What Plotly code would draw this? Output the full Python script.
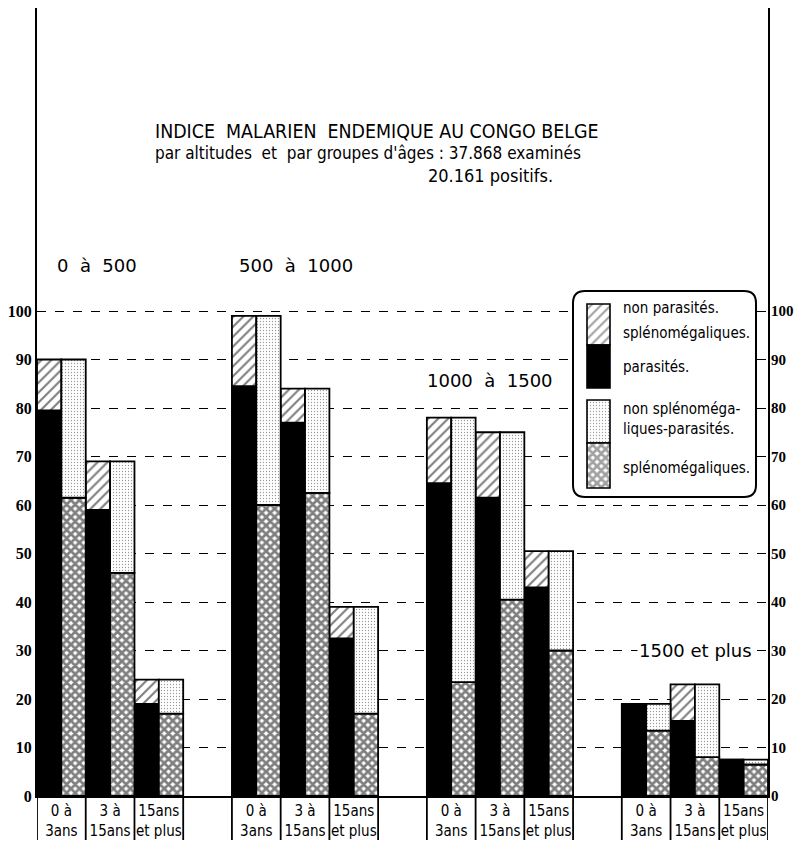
import plotly.graph_objects as go

# ---------------- data ----------------
groups = ["0  à  500", "500  à  1000", "1000  à  1500", "1500 et plus"]
ages = ["0 à<br>3ans", "3 à<br>15ans", "15ans<br>et plus"]

# left bar: parasités (black) + non parasités splénomégaliques (hatched)
parasites = [[79.5, 59, 19], [84.5, 77, 32.5], [64.5, 61.5, 43], [19, 15.5, 7.5]]
non_parasites_spleno = [[10.5, 10, 5], [14.5, 7, 6.5], [13.5, 13.5, 7.5], [0, 7.5, 0]]
# right bar: splénomégaliques (cross-hatched) + non splénomégaliques-parasités (dotted)
splenomegaliques = [[61.5, 46, 17], [60, 62.5, 17], [23.5, 40.5, 30], [13.5, 8, 6.5]]
non_spleno_parasites = [[28.5, 23, 7], [39, 21.5, 22], [54.5, 34.5, 20.5], [5.5, 15, 1]]

y_ticks = list(range(0, 101, 10))

# ---------------- geometry (page pixels; page body has an 8px margin) ----------------
OFF = 8
W, H = 802 - OFF, 848 - 2 * OFF
L, R, T, B = 37, 768, 8, 796          # plot area in page pixels
PXU = 4.85                            # pixels per y unit
YMAX = (B - T) / PXU
XMAX = 30

def xp(px):
    return (px - L) / (R - L)
def yp(py):
    return (B - py) / (B - T)
def xu(px):
    return (px - L) / (R - L) * XMAX
def yu(py):
    return (B - py) / PXU

left_x, right_x = [], []
for g in range(len(groups)):
    for k in range(len(ages)):
        left_x.append(8 * g + 2 * k + 0.5)
        right_x.append(8 * g + 2 * k + 1.5)

def flat(a):
    return [v for row in a for v in row]

par = flat(parasites)
npar = flat(non_parasites_spleno)
spl = flat(splenomegaliques)
nspl = flat(non_spleno_parasites)

OUT = dict(color="black", width=1.8)
HATCH = dict(shape="/", size=7, solidity=0.3, fgcolor="black", fillmode="overlay")
DOTS = dict(shape=".", size=3, solidity=0.15, fgcolor="#333", fillmode="overlay")
CROSS = dict(shape="x", size=6, solidity=0.7, fgcolor="black", fillmode="overlay")

fig = go.Figure()
fig.add_trace(go.Bar(x=left_x, y=par, base=[0] * len(par), width=1,
                     marker=dict(color="black", line=OUT), name="parasités"))
fig.add_trace(go.Bar(x=left_x, y=npar, base=par, width=1,
                     marker=dict(color="white", line=OUT, pattern=HATCH),
                     name="non parasités splénomégaliques"))
fig.add_trace(go.Bar(x=right_x, y=spl, base=[0] * len(spl), width=1,
                     marker=dict(color="white", line=OUT, pattern=CROSS),
                     name="splénomégaliques"))
fig.add_trace(go.Bar(x=right_x, y=nspl, base=spl, width=1,
                     marker=dict(color="white", line=OUT, pattern=DOTS),
                     name="non splénomégaliques-parasités"))

# legend swatches (on right axis y2, same scale)
sw_x = (xu(587) + xu(610)) / 2
sw_w = xu(610) - xu(587)
sw_top = [yu(304), yu(345), yu(400), yu(443)]
sw_bot = [yu(345), yu(388), yu(443), yu(488)]
fig.add_trace(go.Bar(
    x=[sw_x] * 4, base=sw_bot, y=[t - b for t, b in zip(sw_top, sw_bot)],
    width=sw_w, yaxis="y2",
    marker=dict(color=["white", "black", "white", "white"],
                line=dict(color="black", width=1.6),
                pattern=dict(shape=["/", "", ".", "x"], size=[7, 8, 3, 6],
                             solidity=[0.3, 0.2, 0.15, 0.7],
                             fgcolor="black", fillmode="overlay")),
    hoverinfo="skip"))

shapes = []
# legend rounded box
x0, x1, y0, y1 = xu(573), xu(756), yu(291), yu(497)
rx, ry = xu(573 + 12) - xu(573), yu(291) - yu(291 + 12)
path = (f"M {x0+rx},{y0} L {x1-rx},{y0} Q {x1},{y0} {x1},{y0-ry} "
        f"L {x1},{y1+ry} Q {x1},{y1} {x1-rx},{y1} L {x0+rx},{y1} "
        f"Q {x0},{y1} {x0},{y1+ry} L {x0},{y0-ry} Q {x0},{y0} {x0+rx},{y0} Z")
shapes.append(dict(type="path", path=path, xref="x", yref="y",
                   line=dict(color="black", width=2), fillcolor="white",
                   layer="between"))
# cell lines under the axis
for i in range(0, XMAX + 1, 2):
    shapes.append(dict(type="line", xref="x", yref="paper", x0=i, x1=i,
                       y0=0, y1=-(848 - B) / (B - T), line=dict(color="black", width=1.8)))

COND = "DejaVu Sans Condensed, Liberation Sans Narrow, sans-serif"
GEO = "DejaVu Sans, sans-serif"
SERIF = "Liberation Serif, serif"
ann = []
def add_text(text, px, py, size, family=COND, xanchor="left", bg=None, weight="normal"):
    d = dict(text=text, x=xp(px), y=yp(py), xref="paper", yref="paper",
             xanchor=xanchor, yanchor="middle", showarrow=False, align="left",
             font=dict(family=family, size=size, color="black", weight=weight))
    if bg:
        d["bgcolor"] = bg
    ann.append(d)

add_text("INDICE  MALARIEN  ENDEMIQUE AU CONGO BELGE", 153, 131, 19.4)
add_text("par altitudes  et  par groupes d'âges : 37.868 examinés", 153, 153, 17)
add_text("20.161 positifs.", 426, 175, 18)

add_text(groups[0], 55, 265, 18, family=GEO)
add_text(groups[1], 237, 265, 18, family=GEO)
add_text(groups[2], 425, 380, 18, family=GEO)
add_text(groups[3], 695, 650, 18, family=GEO, xanchor="center", bg="white")

add_text("non parasités.", 621, 308, 15)
add_text("splénomégaliques.", 621, 333, 15)
add_text("parasités.", 621, 367, 15)
add_text("non splénoméga-<br>liques-parasités.", 621, 419, 15)
add_text("splénomégaliques.", 621, 468, 15)

# right-hand scale labels as annotations anchored on the y scale
for v in y_ticks:
    ann.append(dict(text=str(v), x=1, xref="paper", xshift=1, y=v, yref="y",
                    xanchor="left", yanchor="middle", showarrow=False,
                    font=dict(family=SERIF, size=15, color="black", weight="bold")))

tick_x = [8 * g + 2 * k + 1 for g in range(len(groups)) for k in range(len(ages))]
tick_t = ages * len(groups)

fig.update_layout(
    width=W, height=H, barmode="overlay",
    margin=dict(l=L - OFF, r=W - (R - OFF), t=T - OFF, b=H - (B - OFF), autoexpand=False),
    paper_bgcolor="white", plot_bgcolor="white", showlegend=False,
    shapes=shapes, annotations=ann,
    xaxis=dict(range=[0, XMAX], tickvals=tick_x, ticktext=tick_t, showgrid=False,
               zeroline=False, showline=True, linecolor="black", linewidth=2,
               ticks="", tickfont=dict(family=COND, size=15, color="black"),
               tickangle=0, automargin=False),
    yaxis=dict(range=[0, YMAX], tickvals=y_ticks, showgrid=True, gridcolor="black",
               griddash="dash", gridwidth=1.2, zeroline=False, showline=True,
               linecolor="black", linewidth=2, ticks="", automargin=False,
               tickfont=dict(family=SERIF, size=16, color="black", weight="bold")),
    yaxis2=dict(range=[0, YMAX], tickvals=y_ticks, overlaying="y", side="right",
                anchor="x", showgrid=False, zeroline=False, showline=True,
                linecolor="black", linewidth=2, ticks="", showticklabels=False,
                automargin=False),
)

fig.write_html("out.html")
